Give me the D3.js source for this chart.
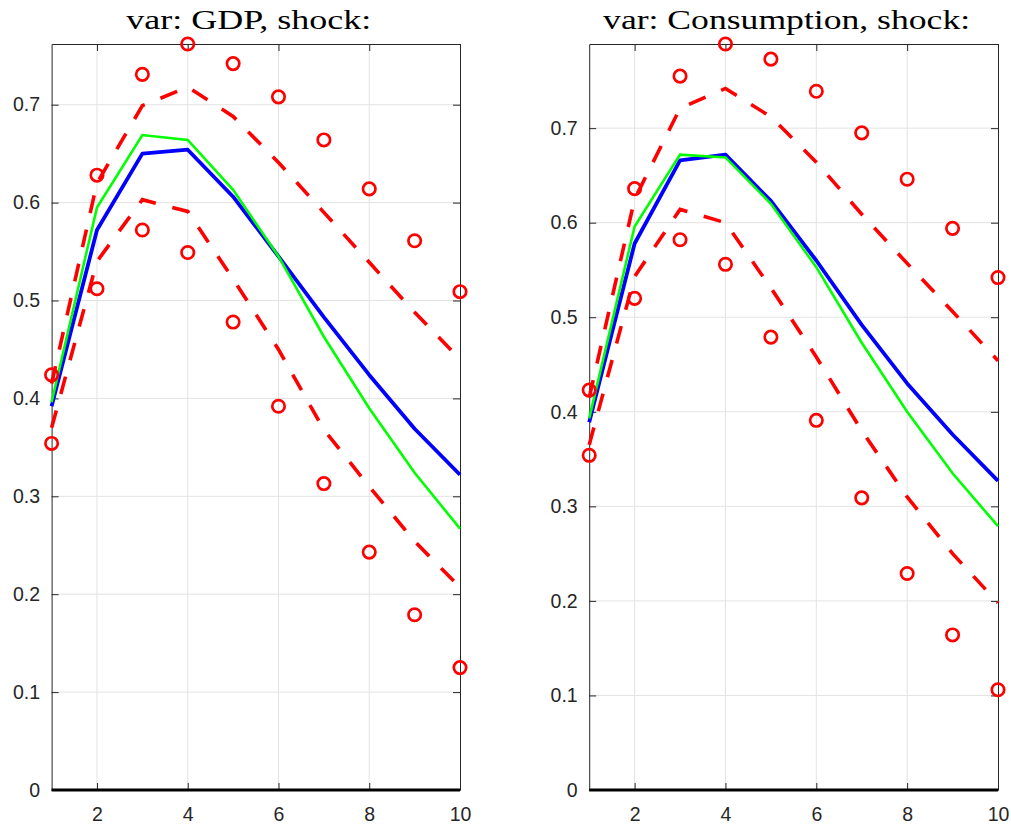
<!DOCTYPE html>
<html>
<head>
<meta charset="utf-8">
<script src="https://cdn.jsdelivr.net/npm/d3@7"></script>
<style>
  html, body { margin: 0; padding: 0; background: #fff; }
  svg { display: block; }
</style>
</head>
<body>
<svg id="chart" width="1011" height="826"></svg>
<script>
// Impulse responses over a 10-period horizon
const horizon = [1, 2, 3, 4, 5, 6, 7, 8, 9, 10];
const xTicks = [2, 4, 6, 8, 10];
const yTicks = [0, 0.1, 0.2, 0.3, 0.4, 0.5, 0.6, 0.7];

// GDP
const gdpMedian = [0.392, 0.572, 0.650, 0.654, 0.606, 0.545, 0.483, 0.424, 0.369, 0.322];
const gdpMean   = [0.396, 0.595, 0.669, 0.664, 0.613, 0.545, 0.463, 0.390, 0.324, 0.267];
const gdpBandHi = [0.415, 0.620, 0.699, 0.718, 0.688, 0.641, 0.590, 0.539, 0.488, 0.440];
const gdpBandLo = [0.370, 0.540, 0.603, 0.591, 0.522, 0.450, 0.368, 0.310, 0.254, 0.207];
const gdpPctHi  = [0.424, 0.628, 0.731, 0.762, 0.742, 0.708, 0.664, 0.614, 0.561, 0.509];
const gdpPctLo  = [0.354, 0.512, 0.572, 0.549, 0.478, 0.392, 0.313, 0.243, 0.179, 0.125];

// Consumption
const conMedian = [0.389, 0.578, 0.666, 0.672, 0.623, 0.560, 0.492, 0.430, 0.376, 0.327];
const conMean   = [0.393, 0.596, 0.672, 0.669, 0.620, 0.553, 0.473, 0.400, 0.335, 0.279];
const conBandHi = [0.415, 0.625, 0.721, 0.742, 0.712, 0.664, 0.609, 0.557, 0.506, 0.454];
const conBandLo = [0.365, 0.543, 0.614, 0.600, 0.531, 0.458, 0.380, 0.310, 0.250, 0.198];
const conPctHi  = [0.423, 0.636, 0.755, 0.789, 0.773, 0.739, 0.695, 0.646, 0.594, 0.542];
const conPctLo  = [0.354, 0.520, 0.582, 0.556, 0.479, 0.391, 0.309, 0.229, 0.164, 0.106];

const panels = [
  { title: "var: GDP, shock:", left: 51.6, right: 460, titleWidth: 245,
    median: gdpMedian, mean: gdpMean, bandHi: gdpBandHi, bandLo: gdpBandLo, pctHi: gdpPctHi, pctLo: gdpPctLo },
  { title: "var: Consumption, shock:", left: 589.2, right: 998, titleWidth: 367,
    median: conMedian, mean: conMean, bandHi: conBandHi, bandLo: conBandLo, pctHi: conPctHi, pctLo: conPctLo }
];

const plotTop = 44, plotBottom = 790;
const axisColor = "#262626";
const gridColor = "#e3e3e3";
const tickLen = 7;
const svg = d3.select("#chart");

panels.forEach(p => {
  const x = d3.scaleLinear().domain([1, 10]).range([p.left, p.right]);
  const yMax = d3.max([p.median, p.mean, p.bandHi, p.bandLo, p.pctHi, p.pctLo].flat());
  const y = d3.scaleLinear().domain([0, yMax]).range([plotBottom, plotTop]);
  const g = svg.append("g");

  // grid
  g.selectAll("line.gx").data(xTicks.filter(t => t < 10)).join("line")
    .attr("x1", d => x(d)).attr("x2", d => x(d)).attr("y1", plotTop).attr("y2", plotBottom)
    .attr("stroke", gridColor).attr("stroke-width", 1);
  g.selectAll("line.gy").data(yTicks.filter(t => t > 0)).join("line")
    .attr("x1", p.left).attr("x2", p.right).attr("y1", d => y(d)).attr("y2", d => y(d))
    .attr("stroke", gridColor).attr("stroke-width", 1);

  // axes (inward ticks on all four sides)
  const fmt = d => d === 0 ? "0" : d3.format(".1f")(d);
  const yAxis = g.append("g").attr("transform", `translate(${p.left},0)`)
    .call(d3.axisLeft(y).tickValues(yTicks).tickFormat(fmt).tickSizeInner(-tickLen).tickSizeOuter(0).tickPadding(11.5));
  const yAxisR = g.append("g").attr("transform", `translate(${p.right},0)`)
    .call(d3.axisRight(y).tickValues(yTicks).tickFormat("").tickSizeInner(-tickLen).tickSizeOuter(0));
  const xAxis = g.append("g").attr("transform", `translate(0,${plotBottom})`)
    .call(d3.axisBottom(x).tickValues(xTicks).tickFormat(d3.format("d")).tickSizeInner(-tickLen).tickSizeOuter(0).tickPadding(17));
  const xAxisT = g.append("g").attr("transform", `translate(0,${plotTop})`)
    .call(d3.axisTop(x).tickValues(xTicks).tickFormat("").tickSizeInner(-tickLen).tickSizeOuter(0));
  [yAxis, yAxisR, xAxis, xAxisT].forEach(a => {
    a.select(".domain").attr("stroke", axisColor).attr("stroke-width", 1);
    a.selectAll(".tick line").attr("stroke", axisColor).attr("stroke-width", 1);
    a.selectAll(".tick text").attr("fill", axisColor)
      .style("font-family", "'Liberation Sans', Arial, sans-serif").style("font-size", "19.5px");
  });

  // zero line
  g.append("line").attr("x1", x(1)).attr("x2", x(10)).attr("y1", y(0)).attr("y2", y(0))
    .attr("stroke", "#000").attr("stroke-width", 3.2);

  const line = d3.line().x((d, i) => x(horizon[i])).y(d => y(d));

  // bands
  [p.bandHi, p.bandLo].forEach(s => {
    g.append("path").datum(s).attr("d", line).attr("fill", "none")
      .attr("stroke", "#ff0000").attr("stroke-width", 3.6).attr("stroke-dasharray", "18,17");
  });
  // median and mean
  g.append("path").datum(p.median).attr("d", line).attr("fill", "none")
    .attr("stroke", "#0000ff").attr("stroke-width", 3.8).attr("stroke-linejoin", "round");
  g.append("path").datum(p.mean).attr("d", line).attr("fill", "none")
    .attr("stroke", "#00ff00").attr("stroke-width", 2.6);

  // percentile markers
  [p.pctHi, p.pctLo].forEach(s => {
    g.selectAll(null).data(s).join("circle")
      .attr("cx", (d, i) => x(horizon[i])).attr("cy", d => y(d)).attr("r", 6.2)
      .attr("fill", "none").attr("stroke", "#ff0000").attr("stroke-width", 2.7);
  });

  // title
  svg.append("text").attr("x", (p.left + p.right) / 2 - 7).attr("y", 29)
    .attr("text-anchor", "middle")
    .attr("textLength", p.titleWidth).attr("lengthAdjust", "spacingAndGlyphs")
    .style("font-family", "'Liberation Serif', 'DejaVu Serif', serif").style("font-size", "27px")
    .attr("fill", "#000").text(p.title);
});
</script>
</body>
</html>
